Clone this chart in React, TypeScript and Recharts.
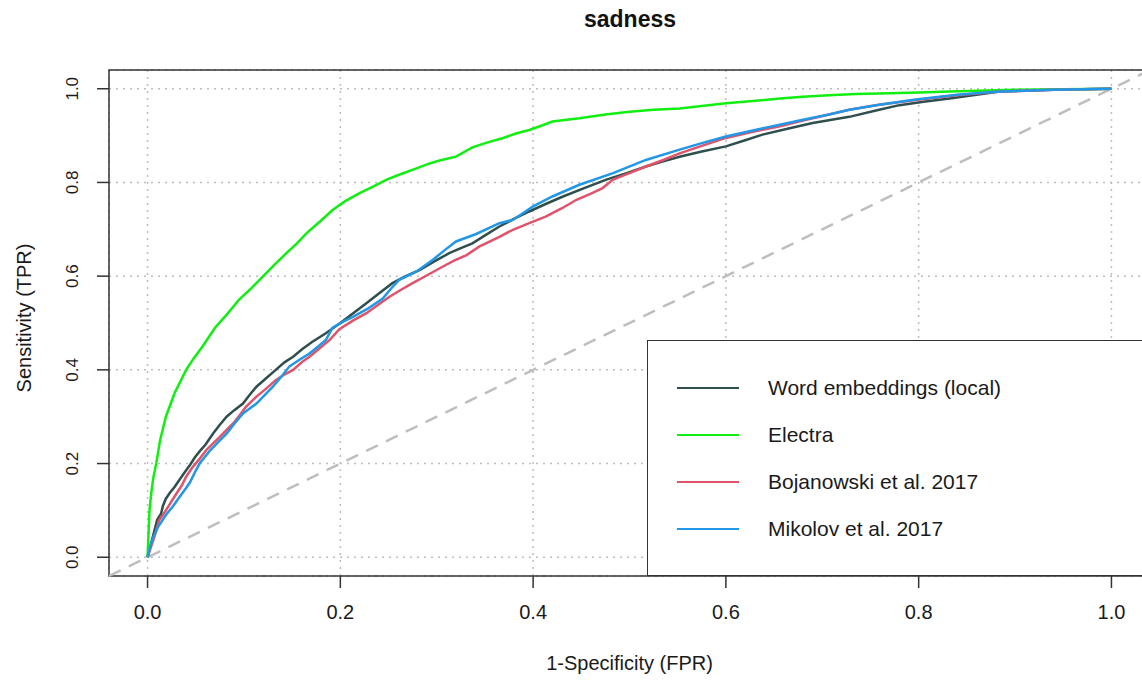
import React from 'react';
import { LineChart, Line, XAxis, YAxis, CartesianGrid, ReferenceLine, ReferenceArea, Legend } from 'recharts';

// ROC points as [FPR, TPR]
const wordEmbeddingsLocal: [number, number][] = [
  [0, 0], [0.005, 0.04], [0.01, 0.08], [0.014, 0.093], [0.016, 0.11], [0.019, 0.125], [0.023, 0.137],
  [0.028, 0.15], [0.033, 0.165], [0.038, 0.18], [0.044, 0.197], [0.049, 0.213], [0.054, 0.226],
  [0.06, 0.24], [0.068, 0.264], [0.075, 0.283], [0.082, 0.3], [0.09, 0.314], [0.099, 0.328],
  [0.106, 0.347], [0.113, 0.364], [0.123, 0.382], [0.133, 0.4], [0.142, 0.416], [0.151, 0.428],
  [0.161, 0.445], [0.171, 0.46], [0.185, 0.478], [0.2, 0.5], [0.214, 0.522], [0.227, 0.542],
  [0.24, 0.563], [0.254, 0.585], [0.268, 0.6], [0.282, 0.613], [0.298, 0.632], [0.313, 0.649],
  [0.325, 0.66], [0.337, 0.67], [0.351, 0.688], [0.365, 0.706], [0.38, 0.722], [0.396, 0.738],
  [0.413, 0.754], [0.431, 0.77], [0.453, 0.788], [0.476, 0.806], [0.497, 0.82], [0.517, 0.834],
  [0.535, 0.845], [0.552, 0.855], [0.575, 0.866], [0.6, 0.877], [0.62, 0.89], [0.638, 0.902],
  [0.665, 0.915], [0.69, 0.927], [0.728, 0.94], [0.759, 0.955], [0.78, 0.965], [0.805, 0.972],
  [0.832, 0.979], [0.86, 0.987], [0.884, 0.994], [0.94, 0.998], [1, 1],
];

const electra: [number, number][] = [
  [0, 0], [0.001, 0.05], [0.002, 0.1], [0.004, 0.14], [0.006, 0.17], [0.009, 0.2], [0.013, 0.25],
  [0.019, 0.3], [0.028, 0.35], [0.04, 0.4], [0.048, 0.425], [0.057, 0.45], [0.07, 0.49],
  [0.083, 0.52], [0.095, 0.55], [0.108, 0.575], [0.12, 0.6], [0.132, 0.625], [0.144, 0.649],
  [0.155, 0.67], [0.165, 0.692], [0.178, 0.715], [0.192, 0.741], [0.205, 0.76], [0.22, 0.777],
  [0.235, 0.792], [0.248, 0.806], [0.263, 0.818], [0.279, 0.83], [0.292, 0.84], [0.303, 0.847],
  [0.32, 0.855], [0.337, 0.875], [0.352, 0.885], [0.369, 0.895], [0.383, 0.905], [0.396, 0.912],
  [0.41, 0.922], [0.42, 0.93], [0.435, 0.934], [0.448, 0.937], [0.475, 0.945], [0.5, 0.951],
  [0.525, 0.955], [0.552, 0.958], [0.575, 0.963], [0.6, 0.969], [0.628, 0.974], [0.656, 0.979],
  [0.68, 0.983], [0.707, 0.986], [0.735, 0.989], [0.759, 0.99], [0.8, 0.992], [0.832, 0.994],
  [0.87, 0.996], [0.9, 0.998], [0.95, 0.999], [1, 1],
];

const bojanowski: [number, number][] = [
  [0, 0], [0.004, 0.025], [0.007, 0.043], [0.012, 0.079], [0.019, 0.1], [0.025, 0.12], [0.03, 0.136],
  [0.036, 0.155], [0.04, 0.172], [0.047, 0.193], [0.054, 0.21], [0.061, 0.229], [0.068, 0.243],
  [0.075, 0.257], [0.082, 0.272], [0.089, 0.286], [0.096, 0.304], [0.102, 0.321], [0.113, 0.343],
  [0.123, 0.36], [0.133, 0.378], [0.142, 0.39], [0.151, 0.4], [0.161, 0.418], [0.168, 0.428],
  [0.178, 0.445], [0.189, 0.464], [0.199, 0.487], [0.213, 0.505], [0.227, 0.521], [0.24, 0.54],
  [0.251, 0.556], [0.263, 0.571], [0.275, 0.585], [0.291, 0.603], [0.306, 0.62], [0.318, 0.633],
  [0.331, 0.645], [0.344, 0.663], [0.365, 0.684], [0.379, 0.699], [0.396, 0.713], [0.413, 0.727],
  [0.43, 0.745], [0.445, 0.763], [0.46, 0.776], [0.472, 0.788], [0.483, 0.806], [0.5, 0.82],
  [0.517, 0.834], [0.535, 0.848], [0.552, 0.862], [0.575, 0.878], [0.6, 0.895], [0.628, 0.908],
  [0.656, 0.92], [0.68, 0.932], [0.707, 0.945], [0.728, 0.955], [0.759, 0.966], [0.797, 0.976],
  [0.84, 0.986], [0.884, 0.994], [0.94, 0.998], [1, 1],
];

const mikolov: [number, number][] = [
  [0, 0], [0.003, 0.025], [0.006, 0.043], [0.011, 0.065], [0.019, 0.09], [0.026, 0.108], [0.033, 0.128],
  [0.04, 0.148], [0.044, 0.16], [0.05, 0.185], [0.054, 0.2], [0.064, 0.226], [0.073, 0.245],
  [0.082, 0.264], [0.09, 0.285], [0.099, 0.307], [0.113, 0.328], [0.122, 0.347], [0.13, 0.364],
  [0.139, 0.386], [0.147, 0.407], [0.158, 0.422], [0.168, 0.435], [0.177, 0.45], [0.185, 0.464],
  [0.192, 0.49], [0.203, 0.503], [0.213, 0.513], [0.228, 0.53], [0.244, 0.552], [0.252, 0.572],
  [0.261, 0.592], [0.279, 0.61], [0.296, 0.635], [0.308, 0.655], [0.32, 0.674], [0.341, 0.69],
  [0.365, 0.713], [0.379, 0.72], [0.4, 0.749], [0.42, 0.77], [0.448, 0.795], [0.483, 0.82],
  [0.517, 0.848], [0.552, 0.87], [0.575, 0.884], [0.6, 0.898], [0.628, 0.911], [0.656, 0.923],
  [0.68, 0.934], [0.707, 0.945], [0.728, 0.955], [0.759, 0.966], [0.797, 0.977], [0.84, 0.987],
  [0.884, 0.994], [0.94, 0.998], [1, 1],
];

const axisTicks = [0, 0.2, 0.4, 0.6, 0.8, 1];
const axisDomain: [number, number] = [-0.04, 1.04];

const series = [
  { name: 'Word embeddings (local)', color: '#2F4F4F', points: wordEmbeddingsLocal },
  { name: 'Electra', color: '#11ee11', points: electra },
  { name: 'Bojanowski et al. 2017', color: '#DF536B', points: bojanowski },
  { name: 'Mikolov et al. 2017', color: '#2297E6', points: mikolov },
];

const FONT = '"Liberation Sans", Arial, sans-serif';

const toPoints = (pairs: [number, number][]) => pairs.map(([fpr, tpr]) => ({ fpr, tpr }));

const YTick = (props: any) => {
  const { x, y, payload } = props;
  return (
    <text x={x} y={y} transform={`rotate(-90 ${x} ${y})`} textAnchor="middle" fontSize={17} fill="#1a1a1a" fontFamily={FONT}>
      {Number(payload.value).toFixed(1)}
    </text>
  );
};

const YTitle = (props: any) => {
  const { viewBox } = props;
  const x = viewBox.x + 31;
  const y = viewBox.y + viewBox.height / 2 - 5;
  return (
    <text x={x} y={y} transform={`rotate(-90 ${x} ${y})`} textAnchor="middle" fontSize={20} fill="#1a1a1a" fontFamily={FONT}>
      Sensitivity (TPR)
    </text>
  );
};

const LegendBox = () => (
  <div style={{ position: 'relative', width: 503, height: 236, boxSizing: 'border-box', border: '1.5px solid #333', background: '#fff', fontFamily: FONT }}>
    {series.map((s, i) => (
      <div key={s.name} style={{ position: 'absolute', left: 0, top: 47 * (i + 1) - 12, height: 24, display: 'flex', alignItems: 'center' }}>
        <div style={{ marginLeft: 29, width: 62, height: 2.5, background: s.color }} />
        <span style={{ marginLeft: 29, fontSize: 21, color: '#1a1a1a' }}>{s.name}</span>
      </div>
    ))}
  </div>
);

const App = () => {
  return (
    <div style={{ position: 'absolute', left: 0, top: 0, width: 1142, height: 683, overflow: 'hidden', background: '#fff' }}>
      <div style={{ position: 'absolute', left: 0, width: 1260, top: 6, textAlign: 'center', fontFamily: FONT, fontWeight: 'bold', fontSize: 23, color: '#111' }}>
        sadness
      </div>
      <LineChart width={1150} height={683} margin={{ top: 70, right: 0, bottom: 0, left: 0 }}>
        <CartesianGrid stroke="#bdbdbd" strokeDasharray="2 5" strokeWidth={1.5} />
        <XAxis
          type="number"
          dataKey="fpr"
          domain={axisDomain}
          ticks={axisTicks}
          allowDataOverflow
          height={107}
          axisLine={false}
          tickLine={{ stroke: '#333', strokeWidth: 1.5 }}
          tickSize={12}
          tickMargin={17}
          tick={{ fontSize: 20, fill: '#1a1a1a', fontFamily: FONT }}
          tickFormatter={(v: number) => v.toFixed(1)}
          label={{ value: '1-Specificity (FPR)', position: 'insideBottom', offset: 13, fontSize: 20, fill: '#1a1a1a', fontFamily: FONT }}
        />
        <YAxis
          type="number"
          dataKey="tpr"
          domain={axisDomain}
          ticks={axisTicks}
          allowDataOverflow
          width={109}
          axisLine={false}
          tickLine={{ stroke: '#333', strokeWidth: 1.5 }}
          tickSize={12}
          tickMargin={19}
          tick={<YTick />}
          label={(p: any) => <YTitle {...p} />}
        />
        <ReferenceLine
          segment={[{ x: axisDomain[0], y: axisDomain[0] }, { x: axisDomain[1], y: axisDomain[1] }]}
          stroke="#bebebe"
          strokeWidth={2.5}
          strokeDasharray="13 9"
        />
        {series.map((s) => (
          <Line
            key={s.name}
            data={toPoints(s.points)}
            dataKey="tpr"
            name={s.name}
            type="linear"
            stroke={s.color}
            strokeWidth={2.5}
            dot={false}
            activeDot={false}
            isAnimationActive={false}
          />
        ))}
        <ReferenceArea x1={axisDomain[0]} x2={axisDomain[1]} y1={axisDomain[0]} y2={axisDomain[1]} fill="none" stroke="#333" strokeWidth={1.5} />
        <Legend
          layout="vertical"
          align="center"
          verticalAlign="middle"
          content={() => <LegendBox />}
          wrapperStyle={{ left: 647, top: 340, width: 503, height: 236 }}
        />
      </LineChart>
    </div>
  );
};

export default App;
